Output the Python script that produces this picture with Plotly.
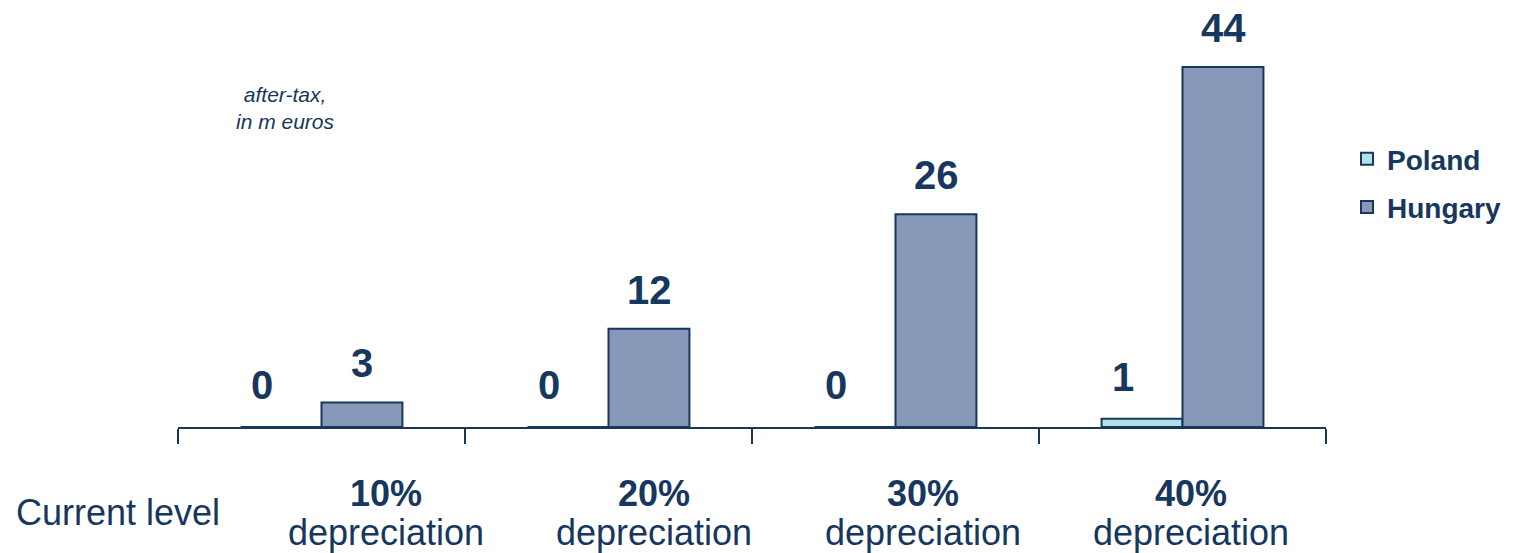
import plotly.graph_objects as go

categories = ["10%", "20%", "30%", "40%"]
sublabel = "depreciation"
first_label = "Current level"
poland = [0, 0, 0, 1]
hungary = [3, 12, 26, 44]

NAVY = "#17375E"
FONT = "Liberation Sans, Arial, sans-serif"

fig = go.Figure()
fig.add_trace(go.Bar(name="<b>Poland</b>", x=categories, y=poland, legendgroup="p",
                     marker=dict(color="#B2E0E6", line=dict(color=NAVY, width=2))))
fig.add_trace(go.Bar(name="<b>Hungary</b>", x=categories, y=hungary, legendgroup="h",
                     marker=dict(color="#8898B8", line=dict(color=NAVY, width=2))))

PW = 1148.0  # plot width in px
def px(xpix):
    return (xpix - 178) / PW
def py(ypix):
    return -(ypix - 427) / 427.0

ann = []
for i, c in enumerate(categories):
    for vals, xs, ys in ((poland, -60, 18), (hungary, 40.5, 15)):
        ann.append(dict(x=c, y=vals[i], xref="x", yref="y", xshift=xs, yshift=ys,
                        text=f"<b>{vals[i]}</b>", showarrow=False, yanchor="bottom",
                        font=dict(size=40, color=NAVY, family=FONT)))
    xc = px(386 + 268.3 * i)
    ann.append(dict(x=xc, y=py(493), xref="paper", yref="paper", text=f"<b>{c}</b>",
                    xanchor="center", yanchor="middle", showarrow=False,
                    font=dict(size=36, color=NAVY, family=FONT)))
    ann.append(dict(x=xc, y=py(532), xref="paper", yref="paper", text=sublabel,
                    xanchor="center", yanchor="middle", showarrow=False,
                    font=dict(size=36, color=NAVY, family=FONT)))

ann.append(dict(x=px(118), y=py(512), xref="paper", yref="paper",
                xanchor="center", yanchor="middle",
                text=first_label, showarrow=False,
                font=dict(size=36, color=NAVY, family=FONT)))
ann.append(dict(x=px(285), y=py(108), xref="paper", yref="paper",
                xanchor="center", yanchor="middle",
                text="<i>after-tax,<br>in m euros</i>", showarrow=False,
                font=dict(size=21, color=NAVY, family=FONT)))

fig.update_layout(
    width=1530, height=553,
    margin=dict(l=178, r=204, t=0, b=126),
    paper_bgcolor="white", plot_bgcolor="white",
    barmode="group", bargap=0.436, bargroupgap=0,
    font=dict(family=FONT, color=NAVY),
    annotations=ann,
    legend=dict(x=px(1347), y=1 - 134 / 427.0, xanchor="left", yanchor="top",
                font=dict(size=28, color=NAVY, family=FONT),
                tracegroupgap=9, itemwidth=30),
    xaxis=dict(showticklabels=False, showline=True, linecolor=NAVY, linewidth=2,
               ticks="outside", tickson="boundaries", ticklen=15, tickcolor=NAVY,
               tickwidth=2, showgrid=False),
    yaxis=dict(visible=False, range=[0, 52.2], showgrid=False, zeroline=False),
)

fig.write_html("out.html")
